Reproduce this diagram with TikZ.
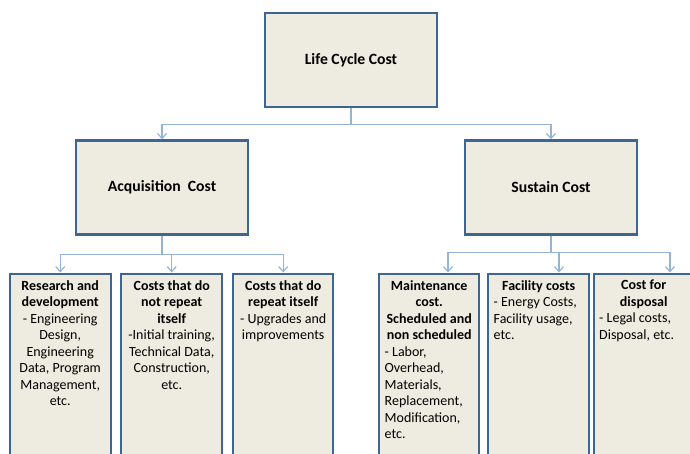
\documentclass[tikz,border=0pt]{standalone}
\usepackage{fontspec}
\setmainfont{Carlito}
\usetikzlibrary{arrows.meta}
\definecolor{boxblue}{HTML}{3F6593}
\definecolor{boxfill}{HTML}{EEEBE0}
\definecolor{linkblue}{HTML}{95B3D7}

\begin{document}
\begin{tikzpicture}[x=1pt,y=1pt,
		link/.style={draw=linkblue, line width=1.2pt, -{Straight Barb[length=5pt,width=9pt]}}]
	\useasboundingbox (0,0) rectangle (690,-453);
	\clip (0,0) rectangle (690,-453);
	\begin{scope}[every node/.style={draw=boxblue, line width=2.4pt, fill=boxfill,
			minimum width=172pt, minimum height=94pt,
			font=\fontsize{15.7}{18}\selectfont\bfseries}]
		\node (lcc) at (351,-60) {Life Cycle Cost};
		\node (acq) at (162,-187.5) {Acquisition\ \ Cost};
		\node (sus) at (551,-187.5) {Sustain Cost};
	\end{scope}
	\begin{scope}[every node/.style={draw=boxblue, line width=2.4pt, fill=boxfill,
			anchor=north west, inner xsep=5.5pt, inner ysep=6.5pt,
			font=\fontsize{14}{16.5}\selectfont}]
		\node (rd) at (8.5,-272.5) {\parbox[t][190pt][t]{90pt}{\centering
			\textbf{Research and\\development}\\- Engineering\\Design,\\Engineering\\Data, Program\\Management,\\etc.}};
		\node (nrep) at (120,-272.5) {\parbox[t][190pt][t]{90pt}{\centering
			\textbf{Costs that do\\not repeat\\itself}\\-Initial training,\\Technical Data,\\Construction,\\etc.}};
		\node (rep) at (232,-272.5) {\parbox[t][190pt][t]{89pt}{\centering
			\textbf{Costs that do\\repeat itself}\\- Upgrades and\\improvements}};
		\node (mnt) at (378,-272.5) {\parbox[t][190pt][t]{89pt}{\centering
			\textbf{Maintenance\\cost.\\Scheduled and\\non scheduled}\par\raggedright
			- Labor,\\Overhead,\\Materials,\\Replacement,\\Modification,\\etc.}};
		\node (fac) at (487,-272.5) {\parbox[t][190pt][t]{90pt}{\centering
			\textbf{Facility costs}\par\raggedright
			- Energy Costs,\\Facility usage,\\etc.}};
		\node (dsp) at (592.5,-272.5) {\parbox[t][190pt][t]{89pt}{\centering
			\textbf{Cost for\\disposal}\par\raggedright
			- Legal costs,\\Disposal, etc.}};
	\end{scope}
	% connectors
	\draw[link] (lcc.south) -- ++(0,-16) -| (acq);
	\draw[link] (lcc.south) -- ++(0,-16) -| (sus);
	\draw[link] (acq.south) -- ++(0,-19) -| (rd);
	\draw[link] (acq.south) -- ++(0,-19) -| (nrep);
	\draw[link] (acq.south) -- ++(0,-19) -| (rep);
	\draw[link] (sus.south) -- ++(0,-17) -| ([xshift=70pt]mnt.north west);
	\draw[link] (sus.south) -- ++(0,-17) -| ([xshift=72pt]fac.north west);
	\draw[link] (sus.south) -- ++(0,-17) -| ([xshift=77.5pt]dsp.north west);
\end{tikzpicture}
\end{document}
